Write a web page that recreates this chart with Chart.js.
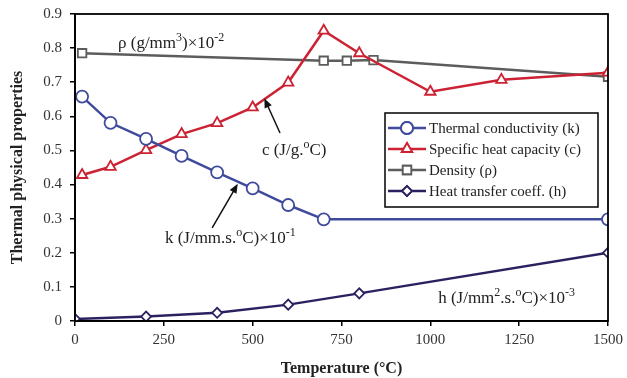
<!DOCTYPE html>
<html>
<head>
<meta charset="utf-8">
<script src="https://cdn.jsdelivr.net/npm/chart.js@4.4.0/dist/chart.umd.min.js"></script>
<style>
  body { margin: 0; background: #fff; }
  #wrap { width: 627px; height: 378px; }
</style>
</head>
<body>
<div id="wrap"><canvas id="chart" width="627" height="378"></canvas></div>
<script>
// data
const kTemp = [20, 100, 200, 300, 400, 500, 600, 700, 1500];
const kVals = [0.658, 0.581, 0.534, 0.484, 0.436, 0.389, 0.34, 0.298, 0.298];
const cTemp = [20, 100, 200, 300, 400, 500, 600, 700, 800, 1000, 1200, 1500];
const cVals = [0.428, 0.452, 0.501, 0.548, 0.58, 0.626, 0.699, 0.851, 0.785, 0.672, 0.707, 0.728];
const rhoTemp = [20, 700, 765, 840, 1500];
const rhoVals = [0.785, 0.763, 0.763, 0.765, 0.716];
const hTemp = [0, 200, 400, 600, 800, 1500];
const hVals = [0.006, 0.013, 0.024, 0.048, 0.081, 0.2];
const xTicks = [0, 250, 500, 750, 1000, 1250, 1500];

const serif = "'Liberation Serif', 'Times New Roman', serif";

function pts(xs, ys) {
  return xs.map((x, i) => ({ x: x, y: ys[i] }));
}

function series(label, xs, ys, color, style, r) {
  return {
    label: label,
    data: pts(xs, ys),
    showLine: true,
    borderColor: color,
    backgroundColor: "#fff",
    borderWidth: 2.5,
    pointStyle: style,
    pointRadius: r,
    pointBorderWidth: 1.8,
    pointBackgroundColor: "#fff",
    pointBorderColor: color,
  };
}

// text labels in data units, pieces flagged true are superscript
const notes = [
  { x: 121, y: 0.8, parts: [["ρ (g/mm"], ["3", 1], [")×10"], ["-2", 1]] },
  { x: 526, y: 0.487, parts: [["c (J/g."], ["o", 1], ["C)"]], arrow: [577, 0.551, 533, 0.652] },
  { x: 253, y: 0.229, parts: [["k (J/mm.s."], ["o", 1], ["C)×10"], ["-1", 1]], arrow: [386, 0.273, 458, 0.402] },
  { x: 1022, y: 0.053, parts: [["h (J/mm"], ["2", 1], [".s."], ["o", 1], ["C)×10"], ["-3", 1]] },
];

const notesPlugin = {
  id: "notes",
  afterDatasetsDraw(chart) {
    const ctx = chart.ctx;
    const xs = chart.scales.x, ys = chart.scales.y;
    const a = chart.chartArea;
    ctx.save();
    // frame
    ctx.strokeStyle = "#000";
    ctx.lineWidth = 1.8;
    ctx.strokeRect(a.left, a.top, a.right - a.left, a.bottom - a.top);

    ctx.fillStyle = "#222";
    ctx.textBaseline = "alphabetic";
    ctx.textAlign = "left";
    notes.forEach((n) => {
      let px = xs.getPixelForValue(n.x);
      const py = ys.getPixelForValue(n.y);
      n.parts.forEach((p) => {
        if (p[1]) {
          ctx.font = "12px " + serif;
          ctx.fillText(p[0], px, py - 7);
        } else {
          ctx.font = "17px " + serif;
          ctx.fillText(p[0], px, py);
        }
        px += ctx.measureText(p[0]).width;
      });
      if (n.arrow) {
        const x1 = xs.getPixelForValue(n.arrow[0]), y1 = ys.getPixelForValue(n.arrow[1]);
        const x2 = xs.getPixelForValue(n.arrow[2]), y2 = ys.getPixelForValue(n.arrow[3]);
        const ang = Math.atan2(y2 - y1, x2 - x1);
        ctx.strokeStyle = "#111";
        ctx.lineWidth = 1.5;
        ctx.beginPath();
        ctx.moveTo(x1, y1);
        ctx.lineTo(x2 - 6 * Math.cos(ang), y2 - 6 * Math.sin(ang));
        ctx.stroke();
        ctx.fillStyle = "#111";
        ctx.beginPath();
        ctx.moveTo(x2, y2);
        ctx.lineTo(x2 - 10 * Math.cos(ang - 0.4), y2 - 10 * Math.sin(ang - 0.4));
        ctx.lineTo(x2 - 10 * Math.cos(ang + 0.4), y2 - 10 * Math.sin(ang + 0.4));
        ctx.closePath();
        ctx.fill();
        ctx.fillStyle = "#222";
      }
    });

    // legend box
    const bw = 213, bh = 94;
    const bx = a.right - 10 - bw, by = a.top + 99;
    ctx.fillStyle = "#fff";
    ctx.fillRect(bx, by, bw, bh);
    ctx.strokeStyle = "#000";
    ctx.lineWidth = 1.5;
    ctx.strokeRect(bx, by, bw, bh);
    chart.data.datasets.forEach((ds, i) => {
      const ry = by + 15 + i * 21;
      ctx.strokeStyle = ds.borderColor;
      ctx.lineWidth = 2.5;
      ctx.beginPath();
      ctx.moveTo(bx + 3, ry);
      ctx.lineTo(bx + 41, ry);
      ctx.stroke();
      ctx.lineWidth = 1.8;
      Chart.helpers.drawPoint(ctx, {
        pointStyle: ds.pointStyle, radius: ds.pointRadius, borderWidth: 1.8,
      }, bx + 22, ry);
      ctx.fillStyle = "#fff";
      ctx.fill();
      ctx.stroke();
      ctx.fillStyle = "#222";
      ctx.font = "15px " + serif;
      ctx.textBaseline = "middle";
      ctx.fillText(ds.label, bx + 44, ry + 1);
    });
    ctx.restore();
  },
};

new Chart(document.getElementById("chart"), {
  type: "scatter",
  data: {
    datasets: [
      series("Thermal conductivity (k)", kTemp, kVals, "#3f4a9c", "circle", 6),
      series("Specific heat capacity (c)", cTemp, cVals, "#cc2233", "triangle", 6),
      series("Density (ρ)", rhoTemp, rhoVals, "#5c5c5c", "rect", 6),
      series("Heat transfer coeff. (h)", hTemp, hVals, "#2a2260", "rectRot", 5),
    ],
  },
  options: {
    responsive: false,
    animation: false,
    layout: { padding: { top: 14, right: 19, left: 0, bottom: 0 } },
    plugins: { legend: { display: false }, tooltip: { enabled: false } },
    scales: {
      x: {
        type: "linear",
        min: 0,
        max: 1500,
        afterBuildTicks: (s) => { s.ticks = xTicks.map((v) => ({ value: v })); },
        afterFit: (s) => { s.height = 57; s.paddingRight = 0; },
        grid: { drawOnChartArea: false, drawTicks: true, tickLength: 5, color: "#000", lineWidth: 1.5 },
        border: { display: true, color: "#000", width: 1.8 },
        ticks: {
          color: "#333", font: { family: serif, size: 15 }, padding: 5, maxRotation: 0,
          callback: (v) => String(v),
        },
        title: {
          display: true,
          text: "Temperature (°C)",
          color: "#222",
          font: { family: serif, size: 16, weight: "bold" },
          padding: { top: 0, bottom: 0 },
        },
      },
      y: {
        min: 0,
        max: 0.9,
        ticks: { stepSize: 0.1, color: "#333", font: { family: serif, size: 15 }, padding: 8 },
        afterFit: (s) => { s.width = 75; s.paddingTop = 0; s.paddingBottom = 0; },
        grid: { drawOnChartArea: false, drawTicks: true, tickLength: 5, color: "#000", lineWidth: 1.5 },
        border: { display: true, color: "#000", width: 1.8 },
        title: {
          display: true,
          text: "Thermal physical properties",
          color: "#222",
          font: { family: serif, size: 16, weight: "bold" },
          padding: { top: 8, bottom: 0 },
        },
      },
    },
  },
  plugins: [notesPlugin],
});
</script>
</body>
</html>
